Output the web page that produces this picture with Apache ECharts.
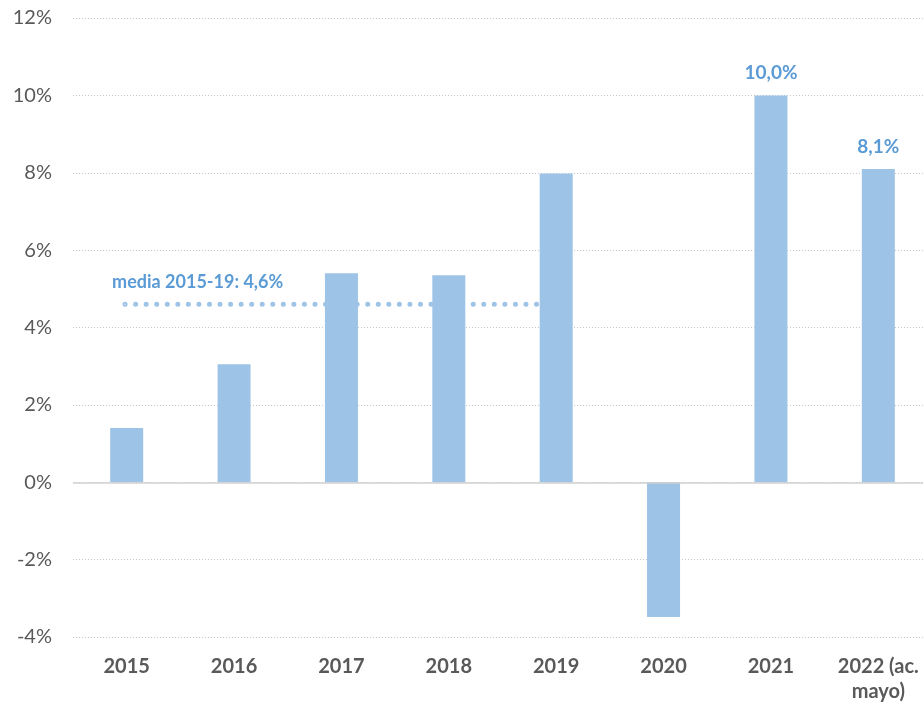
<!DOCTYPE html>
<html>
<head>
<meta charset="utf-8">
<script src="https://cdn.jsdelivr.net/npm/echarts@6/dist/echarts.min.js"></script>
<style>
html,body{margin:0;padding:0;background:#fff;}
#chart{width:923px;height:708px;}
</style>
</head>
<body>
<div id="chart"></div>
<script>
var categories = ['2015', '2016', '2017', '2018', '2019', '2020', '2021', '2022 (ac.\nmayo)'];
var growth = [1.4, 3.05, 5.4, 5.35, 7.98, -3.48, 10.0, 8.1];
var barLabels = ['', '', '', '', '', '', '10,0%', '8,1%'];
var yTicks = { min: -4, max: 12, interval: 2 };
var meanValue = 4.6;
var meanLabel = 'media 2015-19: 4,6%';
var meanSpan = [0.485, 4.335];

var chart = echarts.init(document.getElementById('chart'), null, { renderer: 'canvas' });
chart.setOption({
  animation: false,
  backgroundColor: '#ffffff',
  textStyle: { fontFamily: 'Lato' },
  grid: { left: 73, width: 859, top: 18, bottom: 71, containLabel: false, outerBoundsMode: 'none' },
  xAxis: [
    {
      type: 'category',
      data: categories,
      axisLine: { show: false, onZero: false },
      axisTick: { show: false },
      axisLabel: {
        color: '#595959', fontFamily: 'Lato', fontWeight: 'bold', fontSize: 20,
        lineHeight: 25, margin: 17, interval: 0
      }
    },
    { type: 'value', min: 0, max: 8, show: false }
  ],
  yAxis: {
    type: 'value',
    min: yTicks.min, max: yTicks.max, interval: yTicks.interval,
    axisLine: { show: false },
    axisTick: { show: false },
    axisLabel: {
      color: '#595959', fontFamily: 'Lato', fontSize: 20, margin: 21,
      formatter: function (v) { return v + '%'; }
    },
    splitLine: { lineStyle: { color: '#C8C8C8', type: [1, 2], width: 1 } }
  },
  series: [
    {
      type: 'line',
      xAxisIndex: 1,
      z: 1,
      data: [[meanSpan[0], meanValue], [meanSpan[1], meanValue]],
      showSymbol: false,
      lineStyle: { color: '#9DC3E6', width: 5, type: [0, 10.55], cap: 'round' },
      silent: true
    },
    {
      type: 'scatter',
      xAxisIndex: 1,
      z: 3,
      data: [[meanSpan[0], meanValue]],
      symbolSize: 1,
      itemStyle: { color: '#ffffff', opacity: 1 },
      label: {
        show: true, position: 'top', align: 'left', offset: [-13, -8],
        color: '#5B9BD5', opacity: 1, fontFamily: 'Lato', fontWeight: 'bold', fontSize: 18,
        formatter: function () { return meanLabel; }
      },
      silent: true
    },
    {
      type: 'bar',
      z: 2,
      data: growth,
      barWidth: 33,
      itemStyle: { color: '#9DC3E6' },
      label: {
        show: true, position: 'top', distance: 13,
        color: '#5B9BD5', fontFamily: 'Lato', fontWeight: 'bold', fontSize: 19,
        formatter: function (p) { return barLabels[p.dataIndex]; }
      },
      markLine: {
        silent: true, symbol: 'none',
        label: { show: false },
        lineStyle: { color: '#D0D0D0', type: 'solid', width: 1.5 },
        data: [{ yAxis: 0 }]
      }
    }
  ]
});
</script>
</body>
</html>
